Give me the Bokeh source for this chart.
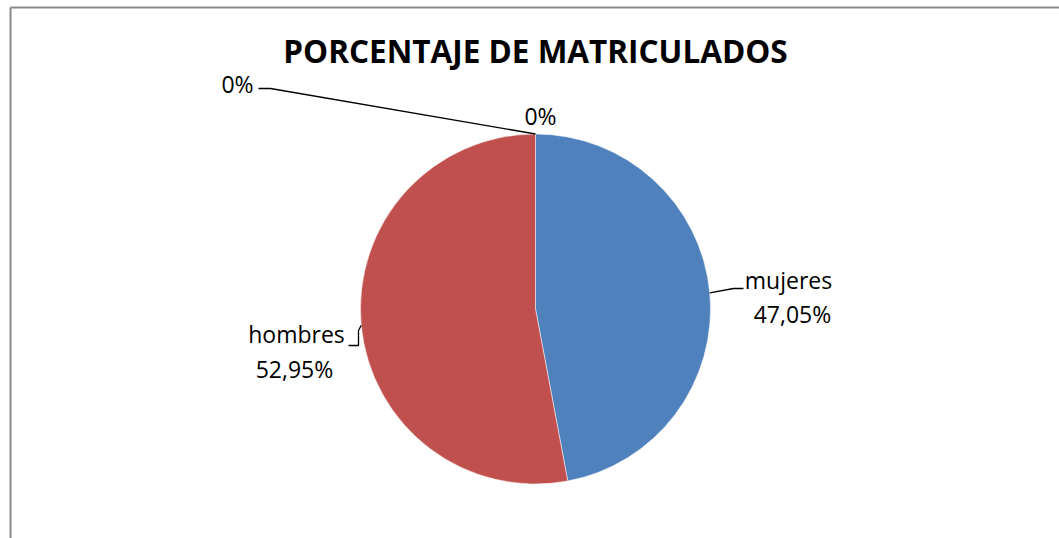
import math
from bokeh.plotting import figure
from bokeh.models import Range1d, ColumnDataSource
from bokeh.core.properties import value
from bokeh.embed import file_html
from bokeh.resources import INLINE

# ---- data ----
categories = ["mujeres", "hombres", "", ""]
percent = [47.05, 52.95, 0.0, 0.0]
labels = ["47,05%", "52,95%", "0%", "0%"]
colors = ["#4F81BD", "#C0504D", "#9BBB59", "#8064A2"]
title = "PORCENTAJE DE MATRICULADOS"

W, H = 1059, 538
def X(px):
    return px
def Y(py):
    return H - py

p = figure(width=W, height=H, x_range=Range1d(0, W), y_range=Range1d(0, H),
           output_backend="svg", toolbar_location=None, min_border=0)
p.axis.visible = False
p.grid.visible = False
p.outline_line_color = None
p.background_fill_color = "white"

# chart border (left and top)
p.line([X(10), X(10)], [Y(538), Y(7)], line_color="#898989", line_width=2)
p.line([X(10), X(1059)], [Y(7), Y(7)], line_color="#898989", line_width=2)

# pie
cx, cy, r = X(535), Y(308.5), 175
total = sum(percent)
starts, ends, mids = [], [], []
acc = 0.0
for v in percent:
    a0 = math.pi / 2 - 2 * math.pi * acc / total
    acc += v
    a1 = math.pi / 2 - 2 * math.pi * acc / total
    starts.append(a0)
    ends.append(a1)
    mids.append((a0 + a1) / 2)

keep = [i for i, v in enumerate(percent) if v > 0]
src = ColumnDataSource(dict(start=[starts[i] for i in keep], end=[ends[i] for i in keep],
                            color=[colors[i] for i in keep]))
p.wedge(x=cx, y=cy, radius=r, start_angle="start", end_angle="end",
        direction="clock", fill_color="color", line_color="white",
        line_width=0.5, source=src)

font = value("Open Sans")
fs = "23px"
tcol = "#000000"

def edge(i):
    a = mids[i]
    return cx + r * math.cos(a), cy + r * math.sin(a)

def label(x, y, t):
    p.text([x], [y], text=[t], text_font=font, text_font_size=fs,
           text_align="center", text_baseline="middle", text_color=tcol)

# mujeres label
ex, ey = edge(0)
p.line([ex, X(733), X(743)], [ey, Y(288), Y(288)], line_color="black", line_width=1.3)
label(X(788), Y(279), categories[0])
label(X(792), Y(313), labels[0])

# hombres label
ex, ey = edge(1)
p.line([X(348), X(358), X(358), ex], [Y(345), Y(345), Y(330), ey], line_color="black", line_width=1.3)
label(X(296), Y(333), categories[1])
label(X(294), Y(368), labels[1])

# zero slices
label(X(540), Y(115), labels[2])
ex, ey = edge(3)
p.line([X(258), X(270), ex], [Y(88), Y(88), ey], line_color="black", line_width=1.3)
label(X(237), Y(83), labels[3])

# title
p.text([X(535)], [Y(50)], text=[title], text_font=value("Open Sans"), text_font_size="31.5px",
       text_font_style="bold", text_align="center", text_baseline="middle", text_color=tcol)

open("out.html", "w").write(file_html(p, INLINE))
